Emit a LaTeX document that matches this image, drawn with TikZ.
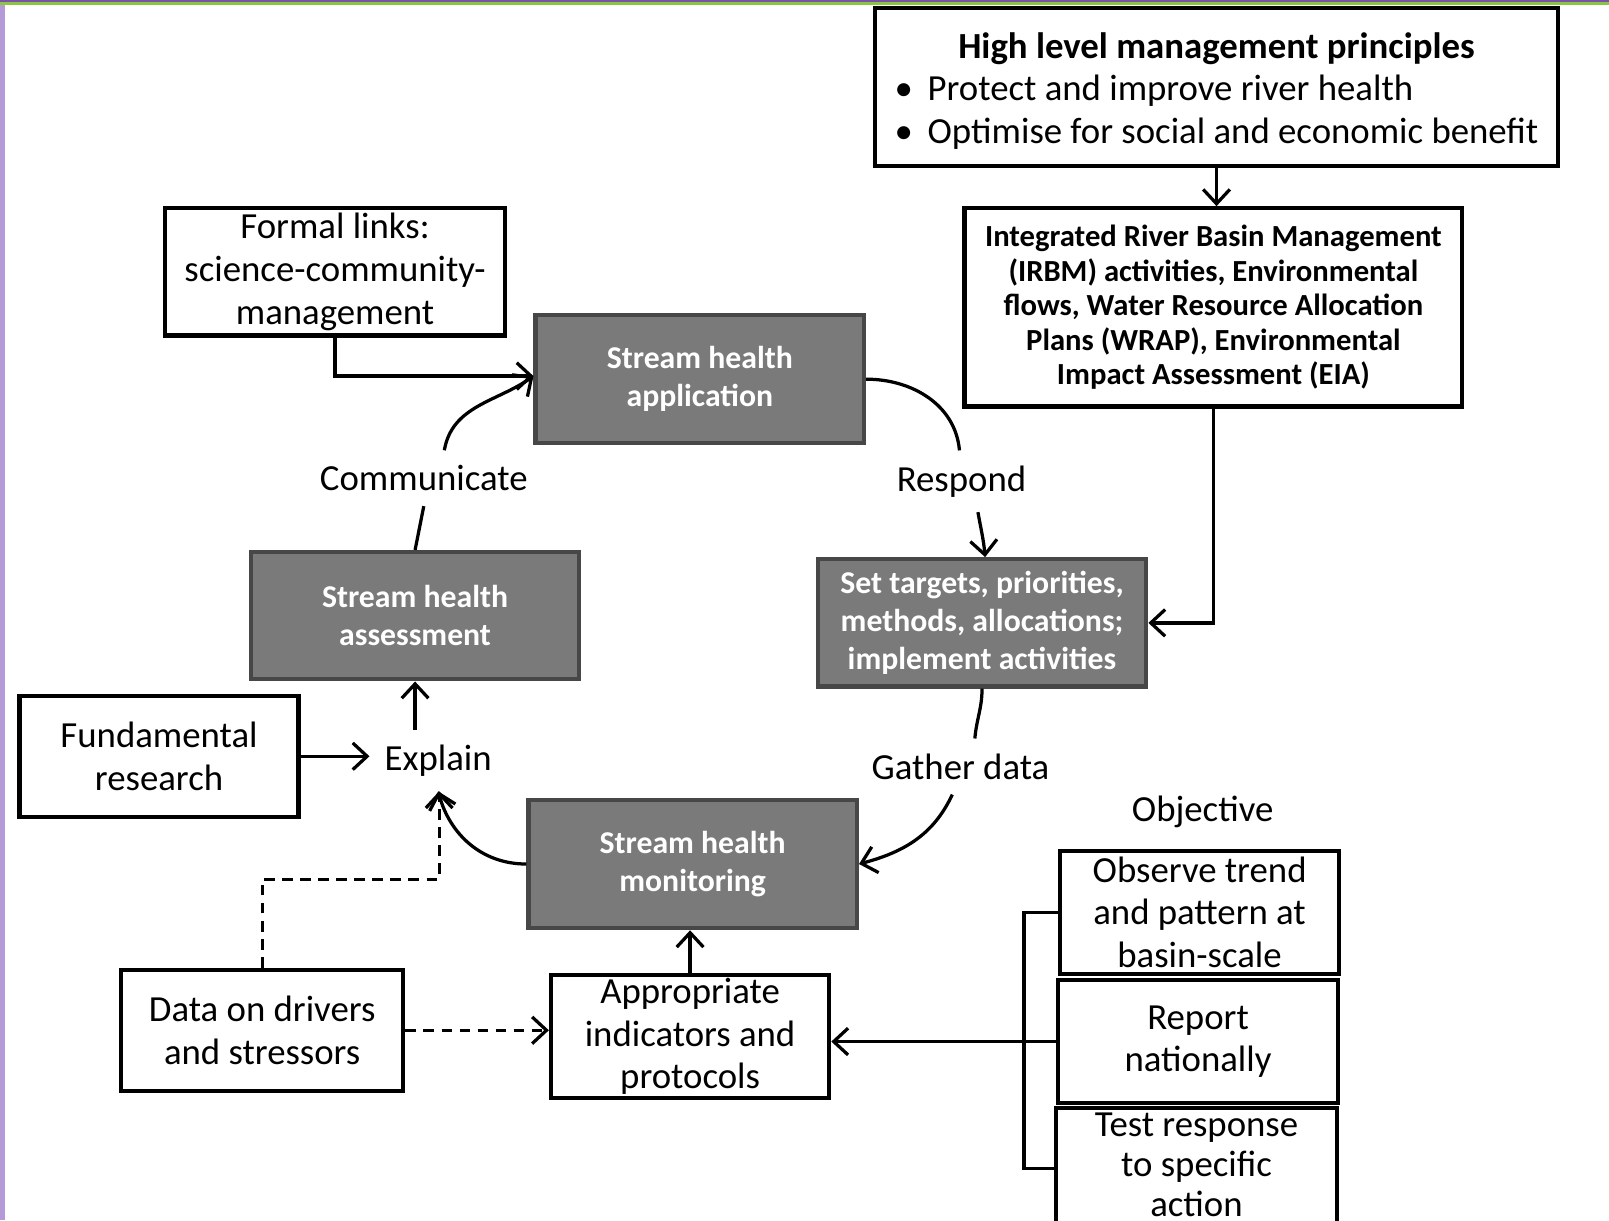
\documentclass[tikz,border=0pt]{standalone}
\usepackage{fontspec}
\setmainfont{Carlito}
\usetikzlibrary{arrows.meta}

\definecolor{edgepurple}{HTML}{7B52AB}
\definecolor{edgegreen}{HTML}{8CC63F}
\definecolor{edgelilac}{HTML}{B49BD8}

\begin{document}
\begin{tikzpicture}[
     txt/.style={font=\fontsize{10.2}{11.8}\selectfont},
     box/.style={txt,draw,line width=1.2pt,fill=white,align=center,inner sep=0pt},
     greybox/.style={draw=black!72,line width=1.2pt,fill=black!52,text=white,align=center,
          inner sep=0pt,minimum width=3.2cm,minimum height=1.25cm,
          font=\bfseries\fontsize{8.8}{10.5}\selectfont},
     lbl/.style={txt,inner sep=4pt},
     conn/.style={line width=0.9pt,-{Straight Barb[length=1.4mm,width=2.6mm]}},
     link/.style={line width=0.9pt}]
     % page edges
     \clip (0,0) rectangle (15.68,-11.89);
     \fill[white] (0,0) rectangle (15.68,-11.89);
     \fill[edgelilac] (0,0) rectangle (0.045,-11.89);
     \fill[edgegreen] (0,0) rectangle (15.68,-0.05);
     \fill[edgepurple] (0,0) rectangle (15.68,-0.02);

     \node[box,minimum width=6.65cm,minimum height=1.54cm] at (11.855,-0.85) (high)
          {\begin{tabular}{@{}l@{}}
           \multicolumn{1}{c}{\rule{0pt}{11pt}\textbf{High level management principles}}\\
           \textbullet\hspace{0.4em}Protect and improve river health\\
           \textbullet\hspace{0.4em}Optimise for social and economic benefit
           \end{tabular}};
     \node[box,minimum width=4.85cm,minimum height=1.93cm,
          font=\bfseries\fontsize{8.5}{9.6}\selectfont] at (11.825,-2.995) (irbm)
          {Integrated River Basin Management\\ (IRBM) activities, Environmental\\
           flows, Water Resource Allocation\\ Plans (WRAP), Environmental\\
           Impact Assessment (EIA)};
     \node[box,minimum width=3.31cm,minimum height=1.24cm] at (3.265,-2.65) (formal)
          {Formal links:\\ science-community-\\ management};
     \node[greybox] at (6.82,-3.695) (app) {Stream health\\ application};
     \node[greybox,minimum height=1.24cm] at (4.045,-6.0) (assess) {Stream health\\ assessment};
     \node[greybox,minimum height=1.24cm] at (9.57,-6.07) (targets)
          {Set targets, priorities,\\ methods, allocations;\\ implement activities};
     \node[greybox] at (6.75,-8.42) (monitor) {Stream health\\ monitoring};
     \node[box,minimum width=2.72cm,minimum height=1.18cm] at (1.55,-7.37) (fund)
          {Fundamental\\ research};
     \node[box,minimum width=2.75cm,minimum height=1.18cm] at (2.555,-10.04) (drivers)
          {Data on drivers\\ and stressors};
     \node[box,minimum width=2.71cm,minimum height=1.2cm] at (6.725,-10.10) (approp)
          {Appropriate\\ indicators and\\ protocols};
     \node[box,minimum width=2.72cm,minimum height=1.2cm] at (11.69,-8.89) (observe)
          {Observe trend\\ and pattern at\\ basin-scale};
     \node[box,minimum width=2.73cm,minimum height=1.2cm] at (11.675,-10.15) (report)
          {Report\\ nationally};
     % last box runs off the page: frame drawn open at the bottom
     \node[align=center,inner sep=0pt,minimum width=2.72cm,minimum height=1.09cm,anchor=north,
          font=\fontsize{10.2}{11}\selectfont] at (11.66,-10.80) (test)
          {Test response\\ to specific\\ action};
     \draw[line width=1.2pt] ([yshift=-0.3cm]test.south west) |- (test.north east)
          -- ([yshift=-0.3cm]test.south east);

     \node[lbl] at (4.13,-4.66) (comm) {Communicate};
     \node[lbl] at (9.37,-4.69) (resp) {Respond};
     \node[lbl] at (9.36,-7.47) (gather) {Gather data};
     \node[lbl] at (4.27,-7.41) (explain) {Explain};
     \node[lbl] at (11.72,-7.91) (obj) {Objective};
     \coordinate (knee) at (4.28,-8.57);
     \coordinate (brk) at (9.98,-10.12);

     % the cycle
     \draw[conn] ([xshift=0.2cm]comm.north) to[out=80,in=215] ([yshift=0.03cm]app.west);
     \draw[link] (comm.south) -- (assess.north);
     \draw[link] (app.east) to[out=0,in=95] ([xshift=-0.02cm]resp.north);
     \draw[conn] ([xshift=0.16cm]resp.south) to[out=-80,in=95] ([xshift=0.03cm]targets.north);
     \draw[link] (targets.south) to[out=-90,in=85] ([xshift=0.14cm]gather.north);
     \draw[conn] ([xshift=-0.08cm]gather.south) to[out=-115,in=15] (monitor.east);
     \draw[conn] (monitor.west) to[out=180,in=-75] (explain.south);
     \draw[conn] (assess.south |- explain.north) -- (assess.south);

     % inputs
     \draw[conn] (high.south) -- (high.south |- irbm.north);
     \draw[conn] (irbm.south) |- (targets.east);
     \draw[conn] (formal.south) |- ([yshift=0.03cm]app.west);
     \draw[conn] (fund.east) -- (fund.east -| explain.west);
     \draw[conn,dash pattern=on 3pt off 2pt] (drivers.north) |- (knee) -- (knee |- explain.south);
     \draw[conn,dash pattern=on 3pt off 2pt] (drivers.east) -- (drivers.east -| approp.west);
     \draw[conn] (approp.north) -- (approp.north |- monitor.south);
     \draw[link] (observe.west) -| (brk) |- ([yshift=-0.035cm]test.west);
     \draw[conn] (report.west) -- (report.west -| approp.east);
\end{tikzpicture}
\end{document}
